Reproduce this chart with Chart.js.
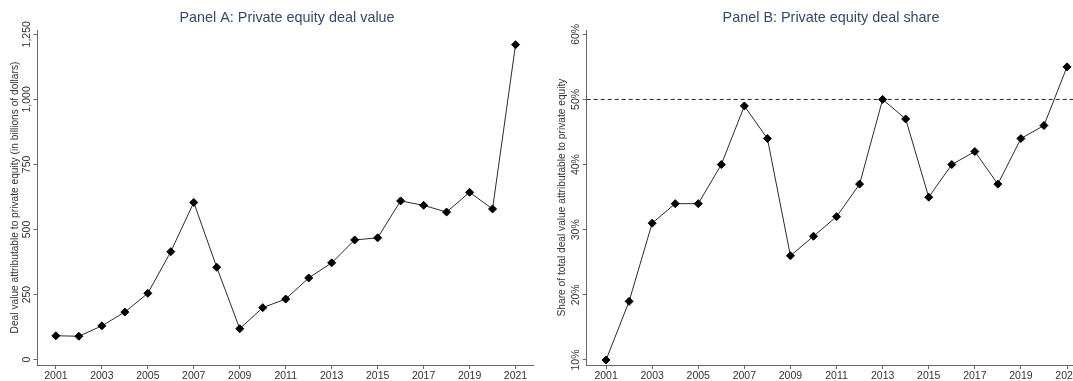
<!DOCTYPE html>
<html>
<head>
<meta charset="utf-8">
<script src="https://cdn.jsdelivr.net/npm/chart.js@4.4.1/dist/chart.umd.min.js"></script>
<style>
  html, body { margin: 0; padding: 0; background: #fff; overflow: hidden; }
  #wrap { position: relative; width: 1073px; height: 381px; overflow: hidden; }
  #panelA { position: absolute; left: 0; top: 0; }
  #panelB { position: absolute; left: 540px; top: 0; }
</style>
</head>
<body>
<div id="wrap">
  <canvas id="panelA" width="540" height="381"></canvas>
  <canvas id="panelB" width="560" height="381"></canvas>
</div>
<script>
// Years covered by both panels
const years = [2001, 2002, 2003, 2004, 2005, 2006, 2007, 2008, 2009, 2010,
               2011, 2012, 2013, 2014, 2015, 2016, 2017, 2018, 2019, 2020, 2021];

// Panel A: deal value attributable to private equity, billions of dollars
const dealValue = [92, 90, 130, 183, 255, 415, 604, 355, 119, 200,
                   233, 314, 372, 460, 468, 610, 593, 567, 643, 579, 1210];

// Panel B: share of total deal value attributable to private equity, percent
const dealShare = [10, 19, 31, 34, 34, 40, 49, 44, 26, 29,
                   32, 37, 50, 47, 35, 40, 42, 37, 44, 46, 55];

// Axis ticks
const xTicks = [2001, 2003, 2005, 2007, 2009, 2011, 2013, 2015, 2017, 2019, 2021];
const yTicksA = [0, 250, 500, 750, 1000, 1250];
const yTickLabelsA = ['0', '250', '500', '750', '1,000', '1,250'];
const yTicksB = [10, 20, 30, 40, 50, 60];
const yTickLabelsB = ['10%', '20%', '30%', '40%', '50%', '60%'];

// Reference level drawn as a dashed line in panel B
const shareReference = 50;

const FONT = "'Liberation Sans', Arial, Helvetica, sans-serif";
const AXIS = '#666666';
const TEXT = '#333333';
const TITLE = '#36496b';

// Draws the panel heading and the rotated y tick labels
const panelText = {
  id: 'panelText',
  afterDraw(chart, args, opts) {
    const ctx = chart.ctx;
    const y = chart.scales.y;
    ctx.save();
    ctx.fillStyle = TITLE;
    ctx.font = '14.4px ' + FONT;
    ctx.textAlign = 'center';
    ctx.textBaseline = 'middle';
    ctx.fillText(opts.title, opts.titleX, 18.5);

    ctx.fillStyle = TEXT;
    ctx.font = '10.5px ' + FONT;
    opts.ticks.forEach((v, i) => {
      const py = y.getPixelForValue(v);
      ctx.save();
      ctx.translate(y.right - 10.5, py);
      ctx.rotate(-Math.PI / 2);
      ctx.fillText(opts.labels[i], 0, 0);
      ctx.restore();
    });
    ctx.restore();
  }
};

function makeChart(id, cfg) {
  return new Chart(document.getElementById(id), {
    type: 'line',
    data: { datasets: cfg.datasets },
    options: {
      responsive: false,
      animation: false,
      layout: { padding: { left: 0, right: cfg.padRight, top: 30, bottom: 0 } },
      plugins: {
        legend: { display: false },
        tooltip: { enabled: false },
        panelText: { title: cfg.title, titleX: cfg.titleX, ticks: cfg.yTicks, labels: cfg.yLabels }
      },
      scales: {
        x: {
          type: 'linear',
          min: cfg.xMin,
          max: cfg.xMax,
          afterBuildTicks: s => { s.ticks = xTicks.map(v => ({ value: v })); },
          afterFit: s => { s.height = 16; },
          grid: { display: true, drawOnChartArea: false, drawTicks: true, tickLength: 4, color: AXIS },
          border: { display: true, color: AXIS, width: 1 },
          ticks: {
            padding: 1,
            maxRotation: 0,
            autoSkip: false,
            color: TEXT,
            font: { family: FONT, size: 10.5 },
            callback: v => String(v)
          }
        },
        y: {
          type: 'linear',
          min: cfg.yMin,
          max: cfg.yMax,
          afterBuildTicks: s => { s.ticks = cfg.yTicks.map(v => ({ value: v })); },
          afterFit: s => { s.width = cfg.yWidth; },
          grid: { display: true, drawOnChartArea: false, drawTicks: true, tickLength: 4, color: AXIS },
          border: { display: true, color: AXIS, width: 1 },
          ticks: { display: false },
          title: {
            display: true,
            text: cfg.yTitle,
            color: TEXT,
            font: { family: FONT, size: 10.2 },
            padding: { top: cfg.yTitlePad, bottom: 0 }
          }
        }
      }
    },
    plugins: [panelText]
  });
}

function series(values) {
  return {
    data: years.map((yr, i) => ({ x: yr, y: values[i] })),
    borderColor: '#2b2b2b',
    borderWidth: 1,
    pointStyle: 'rectRot',
    pointRadius: 4,
    pointBackgroundColor: '#000',
    pointBorderColor: '#000',
    pointBorderWidth: 1,
    tension: 0
  };
}

// Panel A
makeChart('panelA', {
  title: 'Panel A: Private equity deal value',
  titleX: 287,
  datasets: [series(dealValue)],
  xMin: 2000.2, xMax: 2021.76,
  yMin: -20.4, yMax: 1266.5,
  yTicks: yTicksA, yLabels: yTickLabelsA,
  yWidth: 37.5,
  yTitle: 'Deal value attributable to private equity (in billions of dollars)',
  yTitlePad: 9.5,
  padRight: 7
});

// Panel B (its right edge runs past the window)
const xMinB = 2000.16, xMaxB = 2021.75;
makeChart('panelB', {
  title: 'Panel B: Private equity deal share',
  titleX: 291,
  datasets: [
    series(dealShare),
    {
      data: [{ x: xMinB, y: shareReference }, { x: xMaxB, y: shareReference }],
      borderColor: '#222',
      borderWidth: 1,
      borderDash: [4, 3],
      pointRadius: 0
    }
  ],
  xMin: xMinB, xMax: xMaxB,
  yMin: 9.23, yMax: 60.66,
  yTicks: yTicksB, yLabels: yTickLabelsB,
  yWidth: 46.7,
  yTitle: 'Share of total deal value attributable to private equity',
  yTitlePad: 16.5,
  padRight: 15.7
});
</script>
</body>
</html>
